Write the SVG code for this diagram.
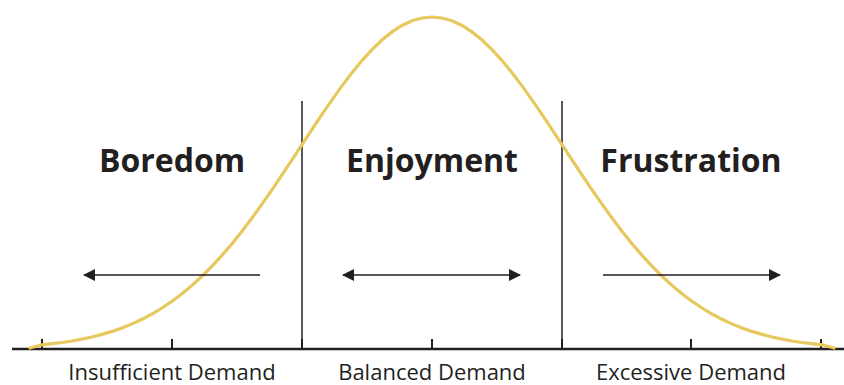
<svg xmlns="http://www.w3.org/2000/svg" width="844" height="385" viewBox="0 0 844 385">
<style>
.ax{stroke:#231f20;stroke-width:2.5;fill:none}
.tk{stroke:#231f20;stroke-width:2;fill:none}
.dv{stroke:#231f20;stroke-width:1.5;fill:none}
.ar{stroke:#231f20;stroke-width:1.6;fill:none}
.curve{stroke:#e6c85c;stroke-width:3.2;fill:none;stroke-linecap:round}
.big{font-family:"Open Sans","Liberation Sans",sans-serif;font-weight:bold;font-size:32px;fill:#231f20;text-anchor:middle}
.sm{font-family:"Open Sans","Liberation Sans",sans-serif;font-size:22px;fill:#231f20;text-anchor:middle}
</style>
<defs>
<marker id="ah" viewBox="0 0 12 12" refX="11" refY="6" markerWidth="12" markerHeight="12" markerUnits="userSpaceOnUse" orient="auto-start-reverse">
<path d="M0,0 L12,6 L0,12 Z" fill="#231f20"/>
</marker>
</defs>
<g id="axis">
<line class="ax" x1="12" y1="349" x2="844" y2="349"/>
<path class="tk" d="M42,339V349M172,339V349M302,339V349M432,339V349M562,339V349M691,339V349M821,339V349"/>
</g>
<g id="dividers">
<line class="dv" x1="302" y1="101" x2="302" y2="349"/>
<line class="dv" x1="562" y1="101" x2="562" y2="349"/>
</g>
<g id="curve">
<path class="curve" d="M30,348 L42,344.8 52,343.7 62,342.5 72,341 82,339.1 92,337 102,334.4 112,331.4 122,327.9 132,323.9 142,319.3 152,314 162,308 172,301.3 182,293.8 192,285.4 202,276.3 212,266.2 222,255.4 232,243.7 242,231.2 252,218 262,204.1 272,189.8 282,174.9 292,159.8 302,144.6 312,129.4 322,114.4 332,99.8 342,85.9 352,72.7 362,60.6 372,49.6 382,40 392,31.9 402,25.5 412,20.8 422,18 432,17 442,18 452,20.8 462,25.5 472,31.9 482,40 492,49.6 502,60.6 512,72.7 522,85.9 532,99.8 542,114.4 552,129.4 562,144.6 572,159.8 582,174.9 592,189.8 602,204.1 612,218 622,231.2 632,243.7 642,255.4 652,266.2 662,276.3 672,285.4 682,293.8 692,301.3 702,308 712,314 722,319.3 732,323.9 742,327.9 752,331.4 762,334.4 772,337 782,339.1 792,341 802,342.5 812,343.7 822,344.8 834,348"/>
</g>
<g id="connectors">
<line class="ar" x1="260" y1="275" x2="84" y2="275" marker-end="url(#ah)"/>
<line class="ar" x1="343" y1="275" x2="520" y2="275" marker-start="url(#ah)" marker-end="url(#ah)"/>
<line class="ar" x1="603" y1="275" x2="780" y2="275" marker-end="url(#ah)"/>
</g>
<g id="boredom"><text class="big" x="172" y="172">Boredom</text></g>
<g id="enjoyment"><text class="big" x="432" y="172">Enjoyment</text></g>
<g id="frustration"><text class="big" x="691" y="172">Frustration</text></g>
<g id="insufficient"><text class="sm" x="172" y="380">Insufficient Demand</text></g>
<g id="balanced"><text class="sm" x="432" y="380">Balanced Demand</text></g>
<g id="excessive"><text class="sm" x="691" y="380">Excessive Demand</text></g>
</svg>
